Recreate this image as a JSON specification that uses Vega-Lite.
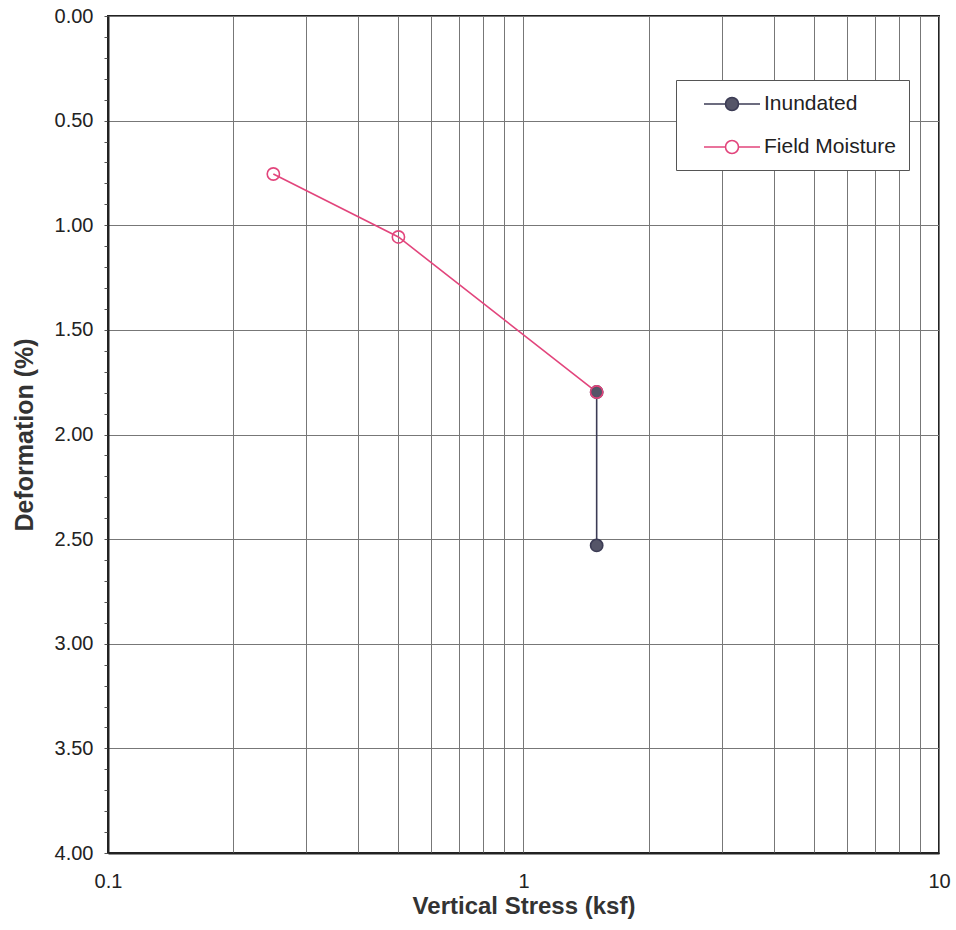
{
  "$schema": "https://vega.github.io/schema/vega-lite/v6.json",
  "autosize": "none",
  "width": 831,
  "height": 837,
  "padding": {"left": 108, "top": 16, "right": 17, "bottom": 77},
  "background": "white",
  "config": {
    "font": "Liberation Sans",
    "view": {"stroke": "#222", "strokeWidth": 2},
    "axis": {
      "labelFont": "Liberation Sans",
      "titleFont": "Liberation Sans",
      "labelFontSize": 20,
      "labelColor": "#222",
      "titleColor": "#333",
      "titleFontWeight": "bold",
      "gridColor": "#777",
      "gridWidth": 1,
      "gridOpacity": 1,
      "domainColor": "#222",
      "domainWidth": 2,
      "tickColor": "#555"
    }
  },
  "data": {
    "values": [
      {"series": "Inundated", "stress": 1.5, "deformation": 1.797},
      {"series": "Inundated", "stress": 1.5, "deformation": 2.53},
      {"series": "Field Moisture", "stress": 0.25, "deformation": 0.755},
      {"series": "Field Moisture", "stress": 0.5, "deformation": 1.056},
      {"series": "Field Moisture", "stress": 1.5, "deformation": 1.797}
    ]
  },
  "encoding": {
    "x": {
      "field": "stress",
      "type": "quantitative",
      "title": "Vertical Stress (ksf)",
      "scale": {"type": "log", "domain": [0.1, 10], "nice": false},
      "axis": {
        "values": [0.1, 0.2, 0.3, 0.4, 0.5, 0.6, 0.7, 0.8, 0.9, 1, 2, 3, 4, 5, 6, 7, 8, 9, 10],
        "labelExpr": "datum.value == 0.1 ? '0.1' : datum.value == 1 ? '1' : datum.value == 10 ? '10' : ''",
        "ticks": false,
        "labelPadding": 18,
        "titlePadding": 3,
        "titleFontSize": 24,
        "labelFlush": false
      }
    },
    "y": {
      "field": "deformation",
      "type": "quantitative",
      "title": "Deformation (%)",
      "scale": {"domain": [0, 4], "reverse": true, "nice": false, "zero": false},
      "axis": {
        "values": [0, 0.1, 0.2, 0.3, 0.4, 0.5, 0.6, 0.7, 0.8, 0.9, 1, 1.1, 1.2, 1.3, 1.4, 1.5, 1.6, 1.7, 1.8, 1.9, 2, 2.1, 2.2, 2.3, 2.4, 2.5, 2.6, 2.7, 2.8, 2.9, 3, 3.1, 3.2, 3.3, 3.4, 3.5, 3.6, 3.7, 3.8, 3.9, 4],
        "labelExpr": "round(datum.value * 10) % 5 == 0 ? format(datum.value, '.2f') : ''",
        "gridOpacity": {"condition": {"test": "round(datum.value * 10) % 5 == 0", "value": 1}, "value": 0},
        "tickSize": 4,
        "labelPadding": 11,
        "titlePadding": 17,
        "titleFontSize": 25,
        "labelFlush": false
      }
    },
    "color": {
      "field": "series",
      "type": "nominal",
      "scale": {"domain": ["Inundated", "Field Moisture"], "range": ["#3c3c55", "#e2457c"]},
      "legend": {
        "title": null,
        "orient": "none",
        "legendX": 568,
        "legendY": 64,
        "fillColor": "white",
        "strokeColor": "#555",
        "padding": 13,
        "symbolOffset": 32,
        "symbolType": "M-2.8,0L-0.65,0M0.65,0L2.8,0M0,-0.65A0.65,0.65 0 1,1 0,0.65A0.65,0.65 0 1,1 0,-0.65",
        "symbolSize": 400,
        "symbolStrokeWidth": 1.6,
        "labelFontSize": 21,
        "labelFont": "Liberation Sans",
        "labelColor": "#222",
        "labelOffset": 21,
        "rowPadding": 22,
        "encode": {
          "symbols": {
            "update": {
              "fill": {"signal": "datum.value === 'Inundated' ? '#555568' : 'white'"},
              "fillOpacity": {"value": 1}
            }
          }
        }
      }
    }
  },
  "layer": [
    {
      "mark": {"type": "line", "strokeWidth": 1.6},
      "encoding": {"detail": {"field": "series"}}
    },
    {
      "mark": {"type": "point", "filled": false, "size": 150, "strokeWidth": 1.6, "opacity": 1},
      "encoding": {
        "fill": {
          "field": "series",
          "type": "nominal",
          "scale": {"domain": ["Inundated", "Field Moisture"], "range": ["#555568", "transparent"]},
          "legend": null
        }
      }
    }
  ]
}
